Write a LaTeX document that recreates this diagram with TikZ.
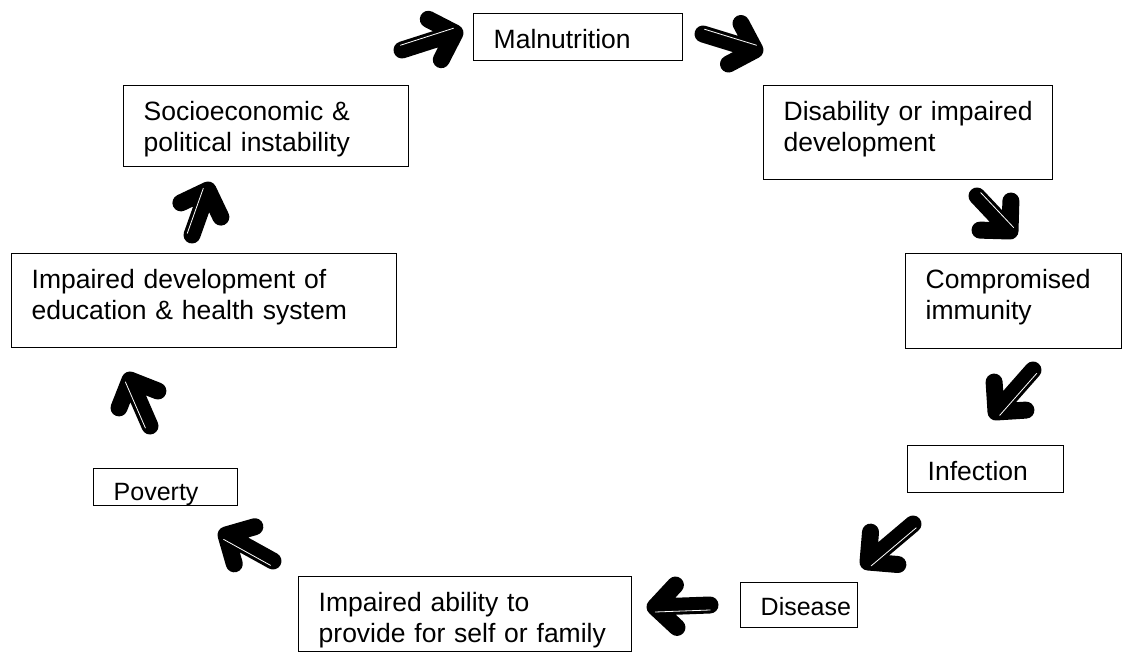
\documentclass[tikz,border=0pt]{standalone}
\usepackage{fontspec}
\setmainfont{Liberation Sans}
\usetikzlibrary{calc}
\tikzset{
  box/.style={draw,line width=1.4pt,anchor=north west,align=left,inner xsep=20pt,inner ysep=0pt,
    text height=35pt,font=\fontsize{26.5}{31}\selectfont},
  small/.style={font=\fontsize{25}{29}\selectfont},
  blk/.style={line width=17pt,line cap=round,line join=round,black},
  hl/.style={white,line width=0.8pt,line cap=round},
}
\begin{document}
\begin{tikzpicture}[x=1pt,y=1pt]
 \useasboundingbox (0,0) rectangle (1122,-652);
 % boxes of the cycle
 \node[box,text width=169,text depth=12] (mal) at (473,-13) {Malnutrition};
 \node[box,text width=249,text depth=59] (dis) at (763,-85) {Disability or impaired\\development};
 \node[box,text width=176,text depth=60] (cmp) at (905,-253) {Compromised\\immunity};
 \node[box,text width=116,text depth=12] (inf) at (907,-445) {Infection};
 \node[box,small,text width=77,text depth=12,text height=33] (dse) at (740,-582) {Disease};
 \node[box,text width=293,text depth=40] (abl) at (298,-576) {Impaired ability to\\provide for self or family};
 \node[box,small,text width=104,text depth=5,text height=32] (pov) at (93,-468) {Poverty};
 \node[box,text width=345,text depth=59] (edu) at (11,-253) {Impaired development of\\education \& health system};
 \node[box,text width=245,text depth=46] (soc) at (123,-85) {Socioeconomic \&\\political instability};
 % block arrows between the boxes
 \foreach \i/\tx/\ty/\hx/\hy in {1/402/50/455/33, 2/703/34/755/50, 3/977/196/1010/231,
   4/1033/370/996/412, 5/913/524/868/562, 6/710/605/655/607, 7/273/561/226/535,
   8/150/426/130/380, 9/192/235/208/190}{
  \coordinate (t\i) at (\tx,-\ty);
  \coordinate (h\i) at (\hx,-\hy);
  \draw[blk] (t\i) -- (h\i) ($(h\i)!30pt!45:(t\i)$) -- (h\i) -- ($(h\i)!30pt!-45:(t\i)$);
  \draw[hl] ($(t\i)!5pt!90:(h\i)$) -- ($(h\i)!5pt!-90:(t\i)$);
 }
\end{tikzpicture}
\end{document}
